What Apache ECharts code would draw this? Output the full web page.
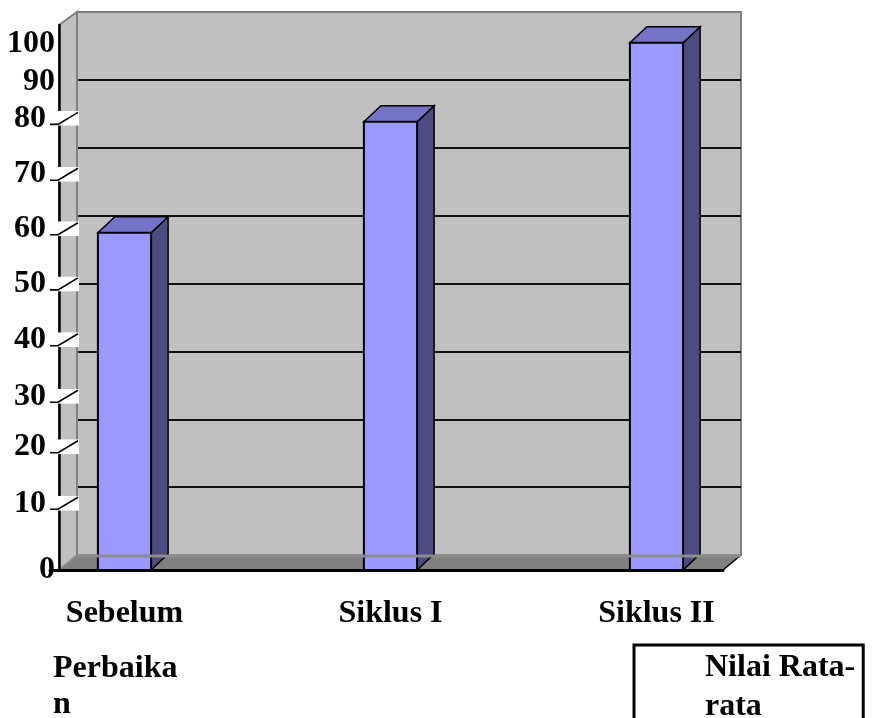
<!DOCTYPE html>
<html>
<head>
<meta charset="utf-8">
<script src="https://cdn.jsdelivr.net/npm/echarts@6/dist/echarts.min.js"></script>
<style>
html, body { margin: 0; padding: 0; background: #fff; }
#main { width: 879px; height: 718px; }
</style>
</head>
<body>
<div id="main"></div>
<script>
var categories = ['Sebelum', 'Siklus I', 'Siklus II'];
// bar heights read against the back wall gridlines (one gridline = 10)
var values = [49.5, 65.8, 77.4];
// the hand placed labels on the left and where they sit on that same scale
var tickLabels = ['0', '10', '20', '30', '40', '50', '60', '70', '80', '90', '100'];
var tickAt = [0, 9.8, 18.1, 25.5, 33.8, 42.0, 50.1, 58.1, 66.3, 71.7, 77.3];
var seriesName = 'Nilai Rata-rata';

var font = "'Liberation Serif', 'Times New Roman', serif";
var depth = [17, -16];

var chart = echarts.init(document.getElementById('main'));

// white label box with the little 3d tick slash
var tickBox = 'data:image/svg+xml;charset=utf-8,' + encodeURIComponent(
    '<svg xmlns="http://www.w3.org/2000/svg" width="29" height="15">' +
    '<rect width="29" height="15" fill="#fff"/>' +
    '<polyline points="0,13.5 8,13.5 28,1.5" fill="none" stroke="#000" stroke-width="1.6"/>' +
    '</svg>');

function renderBar(params, api) {
    var top = api.coord([api.value(0), api.value(1)]);
    var base = api.coord([api.value(0), 0]);
    var half = api.size([1, 0])[0] * 0.1;
    var l = top[0] - half, r = top[0] + half, t = top[1], b = base[1];
    var dx = depth[0], dy = depth[1];
    return {
        type: 'group',
        children: [{
            type: 'polygon',
            shape: { points: [[r, t], [r + dx, t + dy], [r + dx, b + dy], [r, b]] },
            style: { fill: '#4c4c80', stroke: '#000', lineWidth: 1.5 }
        }, {
            type: 'polygon',
            shape: { points: [[l, t], [l + dx, t + dy], [r + dx, t + dy], [r, t]] },
            style: { fill: '#7474c6', stroke: '#000', lineWidth: 1.5 }
        }, {
            type: 'rect',
            shape: { x: l, y: t, width: r - l, height: b - t },
            style: { fill: '#9999ff', stroke: '#000', lineWidth: 2 }
        }]
    };
}

var labelText = { fontSize: 32, fontWeight: 'bold', fontFamily: font, color: '#000' };

chart.setOption({
    animation: false,
    backgroundColor: '#fff',
    grid: [
        // back wall
        { left: 77, right: 138, top: 12, bottom: 163, show: true, backgroundColor: '#c0c0c0',
          borderColor: '#808080', borderWidth: 2, outerBoundsMode: 'none' },
        // front plane (axis lines + labels)
        { left: 50, right: 156, top: 25, bottom: 148, outerBoundsMode: 'none' },
        // bars
        { left: -8.5, right: 89.5, top: 25, bottom: 148, outerBoundsMode: 'none' }
    ],
    xAxis: [{
        gridIndex: 0, type: 'category', data: categories, show: false
    }, {
        gridIndex: 1, type: 'category', data: categories, offset: 5, z: 5,
        axisLine: { lineStyle: { color: '#000', width: 3 } },
        axisTick: { show: false },
        axisLabel: { show: false }
    }, {
        gridIndex: 2, type: 'category', data: categories,
        axisLine: { show: false },
        axisTick: { show: false },
        axisLabel: {
            interval: 0, margin: 28,
            fontSize: 32, fontWeight: 'bold', fontFamily: font, color: '#000'
        }
    }],
    yAxis: [{
        gridIndex: 0, type: 'value', min: 0, max: 80, interval: 10,
        axisLine: { show: false },
        axisTick: { show: false },
        axisLabel: { show: false },
        splitLine: {
            show: true, showMinLine: false, showMaxLine: false,
            lineStyle: { color: '#111', width: 2 }
        }
    }, {
        gridIndex: 1, type: 'value', min: 0, max: 80, offset: -9, z: 5,
        axisLine: { show: true, lineStyle: { color: '#000', width: 2.5 } },
        axisTick: { show: false },
        splitLine: { show: false },
        axisLabel: {
            customValues: tickAt,
            margin: -20,
            formatter: function(val) {
                var i = 0;
                for (var k = 1; k < tickAt.length; k++) {
                    if (Math.abs(tickAt[k] - val) < Math.abs(tickAt[i] - val)) i = k;
                }
                var s = tickLabels[i];
                if (+s >= 10 && +s <= 80) return '{v|' + s + '}{t|}';
                return '{n|' + s + '}';
            },
            rich: {
                v: Object.assign({ padding: [0, 4, 0, 0] }, labelText),
                n: Object.assign({ padding: [0, 24, 0, 0] }, labelText),
                t: { width: 29, height: 15, backgroundColor: { image: tickBox } }
            }
        }
    }, {
        gridIndex: 2, type: 'value', min: 0, max: 80, show: false
    }],
    legend: {
        left: 634, top: 645,
        data: [{ name: seriesName, icon: 'rect', itemStyle: { opacity: 0 } }],
        itemWidth: 58, itemHeight: 14,
        padding: [3, 8, 40, 8],
        borderColor: '#000', borderWidth: 3, backgroundColor: '#fff',
        selectedMode: false,
        formatter: function() { return 'Nilai Rata-\nrata'; },
        textStyle: { fontSize: 32, fontWeight: 'bold', fontFamily: font, color: '#000', lineHeight: 39 }
    },
    graphic: [{
        // left side wall
        type: 'polygon', z: 1,
        shape: { points: [[59, 25], [77, 12], [77, 555], [59, 570]] },
        style: { fill: '#c0c0c0', stroke: '#808080', lineWidth: 2 }
    }, {
        // floor
        type: 'polygon', z: 1,
        shape: { points: [[59, 570], [77, 555], [741, 555], [723, 570]] },
        style: { fill: '#808080', stroke: '#a0a0a0', lineWidth: 1 }
    }, {
        type: 'polyline', z: 1,
        shape: { points: [[59, 570], [723, 570], [741, 555]] },
        style: { stroke: '#000', lineWidth: 1.5, fill: null }
    }, {
        // back edge of the floor, drawn over the bars like the original
        type: 'line', z: 4,
        shape: { x1: 77, y1: 556, x2: 741, y2: 556 },
        style: { stroke: '#8c8c8c', lineWidth: 3 }
    }, {
        type: 'text', left: 53, top: 651, z: 5,
        style: {
            text: 'Perbaika\nn', fill: '#000', lineHeight: 36,
            font: 'bold 32px ' + font
        }
    }],
    series: [{
        name: seriesName,
        type: 'custom',
        xAxisIndex: 2,
        yAxisIndex: 2,
        z: 2,
        renderItem: renderBar,
        encode: { x: 0, y: 1 },
        data: values.map(function(v, i) { return [i, v]; })
    }]
});
</script>
</body>
</html>
